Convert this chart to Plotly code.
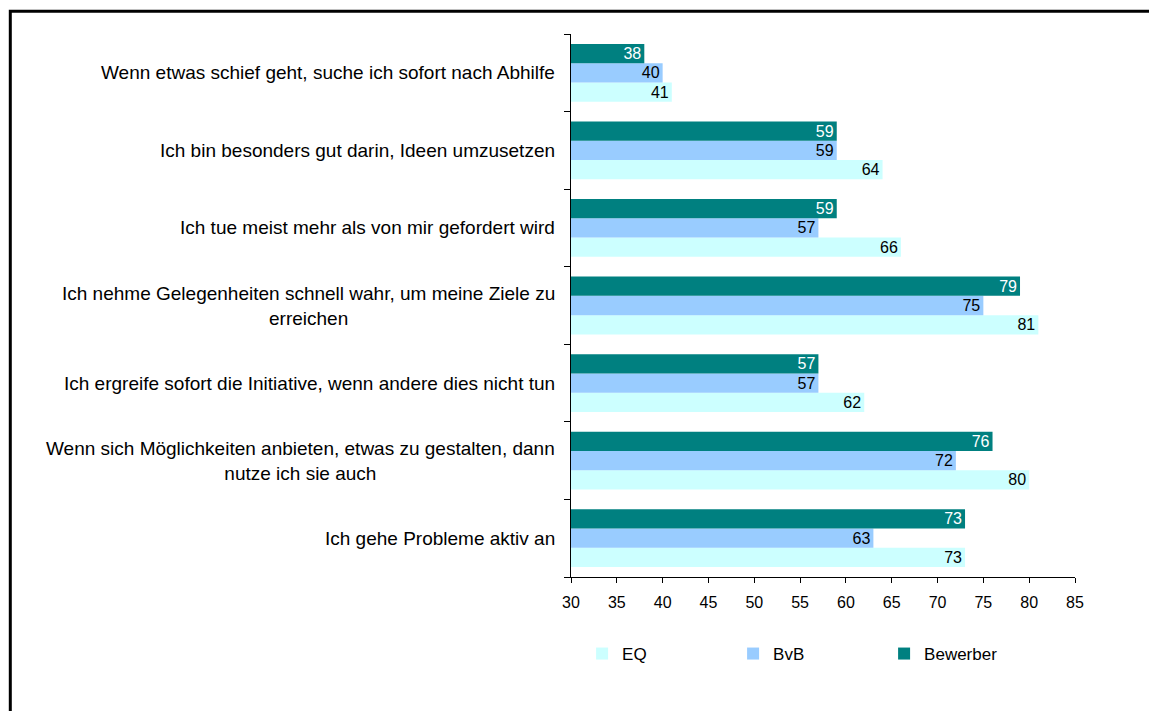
import plotly.graph_objects as go

# Statements, listed top to bottom as they appear on the chart
statements = [
    "Wenn etwas schief geht, suche ich sofort nach Abhilfe",
    "Ich bin besonders gut darin, Ideen umzusetzen",
    "Ich tue meist mehr als von mir gefordert wird",
    "Ich nehme Gelegenheiten schnell wahr, um meine Ziele zu<br>erreichen",
    "Ich ergreife sofort die Initiative, wenn andere dies nicht tun",
    "Wenn sich Möglichkeiten anbieten, etwas zu gestalten, dann<br>nutze ich sie auch",
    "Ich gehe Probleme aktiv an",
]

eq_values = [41, 64, 66, 81, 62, 80, 73]
bvb_values = [40, 59, 57, 75, 57, 72, 63]
bewerber_values = [38, 59, 59, 79, 57, 76, 73]

x_ticks = list(range(30, 90, 5))
X_MIN, X_MAX = 30, 85

FONT = "Liberation Sans, Arial, Helvetica, sans-serif"

# Plot categories from bottom to top so the first statement sits on top
cats = statements[::-1]

series = [
    ("EQ", eq_values[::-1], "#CCFFFF", "#000000"),
    ("BvB", bvb_values[::-1], "#99CCFF", "#000000"),
    ("Bewerber", bewerber_values[::-1], "#008080", "#FFFFFF"),
]

fig = go.Figure()
for name, vals, color, txtcol in series:
    fig.add_trace(go.Bar(
        name=name,
        y=cats,
        x=[v - X_MIN for v in vals],   # bars start at the axis minimum
        base=X_MIN,
        orientation="h",
        marker=dict(color=color, line=dict(width=0)),
        text=[str(v) for v in vals],
        textposition="inside",
        insidetextanchor="end",
        textangle=0,
        textfont=dict(family=FONT, size=16, color=txtcol),
        constraintext="none",
        cliponaxis=False,
        hovertemplate=name + ": %{text}<extra></extra>",
    ))

PLOT_H = 711 - 34 - 134

fig.update_layout(
    width=1149,
    height=711,
    barmode="group",
    bargap=0.255,
    bargroupgap=0,
    plot_bgcolor="white",
    paper_bgcolor="white",
    font=dict(family=FONT, size=16, color="#000000"),
    margin=dict(l=571, r=74, t=34, b=134),
    showlegend=True,
    legend=dict(
        orientation="h",
        x=0.022, xanchor="left",
        y=-77 / PLOT_H, yanchor="middle",
        entrywidth=106, entrywidthmode="pixels",
        font=dict(family=FONT, size=17),
        traceorder="normal",
        bgcolor="rgba(0,0,0,0)",
    ),
    uniformtext=dict(minsize=16, mode="show"),
)

fig.update_xaxes(
    range=[X_MIN, X_MAX],
    tickvals=x_ticks,
    ticktext=[str(t) for t in x_ticks],
    showgrid=False,
    zeroline=False,
    showline=True,
    linecolor="#000000",
    linewidth=1,
    ticks="outside",
    ticklen=5,
    tickcolor="#000000",
    tickfont=dict(family=FONT, size=16),
    ticklabelstandoff=6,
)

fig.update_yaxes(
    categoryorder="array",
    categoryarray=cats,
    showgrid=False,
    showline=True,
    linecolor="#000000",
    linewidth=1,
    ticks="outside",
    tickson="boundaries",
    ticklen=6,
    tickcolor="#000000",
    showticklabels=False,
)

# Category labels: right edge next to the axis, multi-line text centred
for cat in cats:
    fig.add_annotation(
        x=-0.0278, xref="paper", xanchor="right",
        y=cat, yref="y", yanchor="middle",
        text=cat, align="center", showarrow=False,
        font=dict(family=FONT, size=19, color="#000000"),
    )

# Outer frame of the chart area
fig.add_shape(
    type="rect", xref="paper", yref="paper",
    x0=-1.1125, x1=1.17, y0=-0.27, y1=1 + (34 - 11.3) / PLOT_H,
    line=dict(color="#000000", width=3),
    fillcolor="rgba(0,0,0,0)",
    layer="above",
)

fig.write_html("out.html")
